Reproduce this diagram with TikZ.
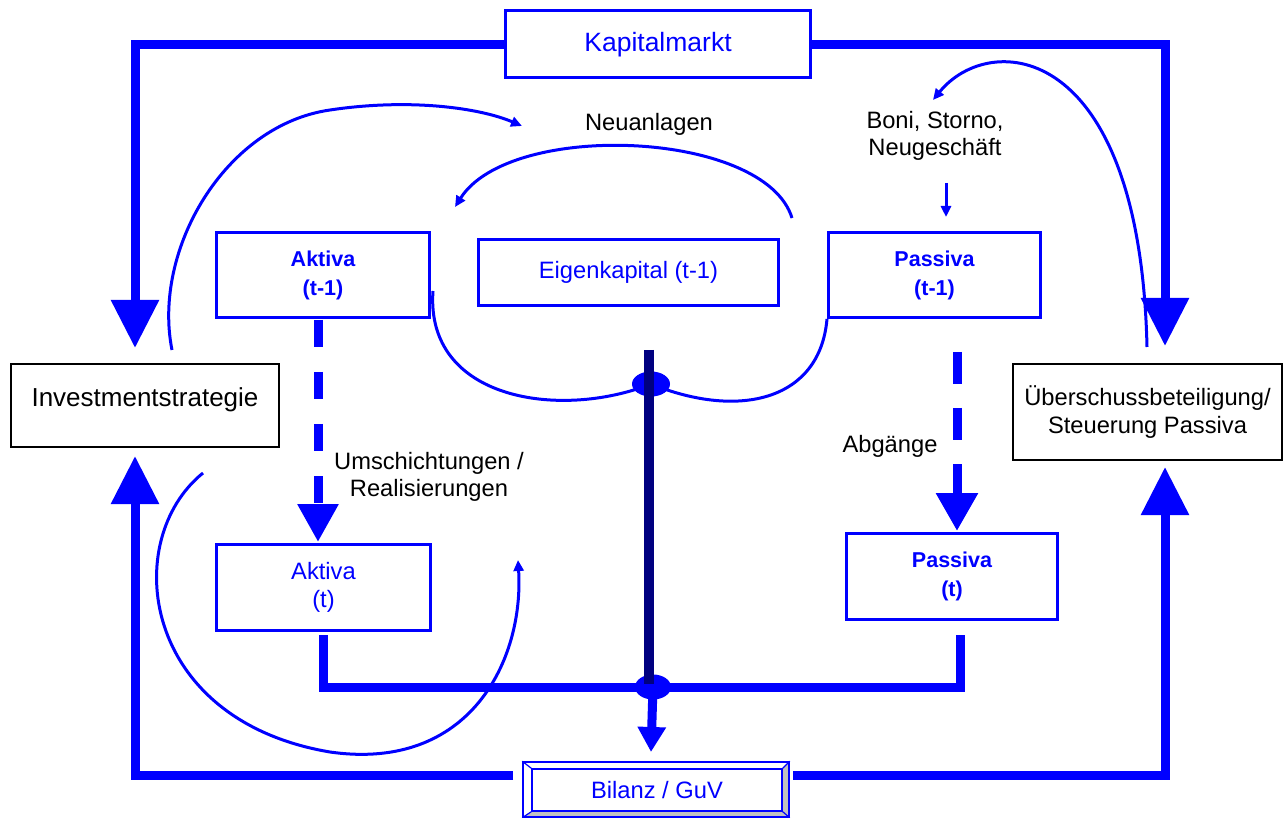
\documentclass[tikz,border=0pt]{standalone}
\usepackage{fontspec}
\setmainfont{Liberation Sans}
\usetikzlibrary{arrows.meta}
\definecolor{bl}{RGB}{0,0,255}
\definecolor{nv}{RGB}{0,0,128}
\definecolor{bevelgray}{RGB}{192,192,192}
\begin{document}
\begin{tikzpicture}[x=1pt,y=-1pt,
  bluebox/.style={draw=bl,line width=3pt,text=bl,inner sep=0pt,align=center,font=\fontsize{23.7}{27.5}\selectfont},
  boldbox/.style={bluebox,font=\fontsize{21.5}{29}\selectfont\bfseries},
  blackbox/.style={draw=black,line width=2pt,inner sep=0pt,align=center,font=\fontsize{23.7}{27.5}\selectfont},
  lbl/.style={font=\fontsize{23.7}{27.5}\selectfont,align=center,inner sep=0pt},
  bigline/.style={draw=bl,line width=9pt,line join=miter},
  bigtip/.style={-{Triangle[length=48pt,width=46pt]}},
  thinline/.style={draw=bl,line width=3pt},
  thintip/.style={-{Triangle[length=11pt,width=10pt]}}]
\useasboundingbox (0,0) rectangle (1286,818);

% boxes
\node[bluebox,minimum width=305pt,minimum height=67pt,font=\fontsize{26.5}{30}\selectfont] (km) at (658,44.5) {Kapitalmarkt};
\node[boldbox,minimum width=213pt,minimum height=85pt] (a1) at (323,275) {Aktiva\\(t-1)};
\node[bluebox,minimum width=300pt,minimum height=66pt] (ek) at (628.5,272.5) {Eigenkapital (t-1)};
\node[boldbox,minimum width=212pt,minimum height=85pt] (p1) at (934.5,275) {Passiva\\(t-1)};
\node[blackbox,minimum width=268pt,minimum height=83pt,font=\fontsize{26}{30}\selectfont,text depth=16pt] (inv) at (145,405.5) {Investmentstrategie};
\node[blackbox,minimum width=269pt,minimum height=96pt] (ue) at (1147.5,412) {Überschussbeteiligung/\\Steuerung Passiva};
\node[bluebox,minimum width=214pt,minimum height=86pt] (a2) at (323.5,587.5) {Aktiva\\(t)};
\node[boldbox,minimum width=211pt,minimum height=86pt] (p2) at (952,576.5) {Passiva\\(t)};

% Bilanz / GuV beveled box
\fill[bevelgray] (523,817) -- (789,817) -- (782,811) -- (532,811) -- cycle;
\fill[bevelgray] (789,762) -- (789,817) -- (782,811) -- (782,769) -- cycle;
\node[draw=bl,line width=1.5pt,inner sep=0pt,minimum width=266pt,minimum height=55pt] (bil) at (656,789.5) {};
\node[draw=bl,line width=1.5pt,inner sep=0pt,minimum width=250pt,minimum height=42pt,text=bl,font=\fontsize{23.7}{27.5}\selectfont] (bilin) at (657,790) {Bilanz / GuV};
\draw[bl,line width=1.2pt] (bil.north west) -- (bilin.north west) (bil.north east) -- (bilin.north east)
  (bil.south west) -- (bilin.south west) (bil.south east) -- (bilin.south east);

% labels
\node[lbl] (neu) at (649,124) {Neuanlagen};
\node[lbl] (boni) at (935,136) {Boni, Storno,\\Neugeschäft};
\node[lbl] (um) at (429,477) {Umschichtungen /\\Realisierungen};
\node[lbl] (abg) at (890,446) {Abgänge};

% coordinates for free ends
\coordinate (invtop) at (135,348);
\coordinate (uetop) at (1165,346);
\coordinate (invbot) at (135,456);
\coordinate (uebot) at (1165,467);
\coordinate (bilL) at (513,775);
\coordinate (bilR) at (793,775);
\coordinate (a1d) at (318,320);
\coordinate (a2u) at (318,542);
\coordinate (p1d) at (957,352);
\coordinate (p2u) at (957,531);
\coordinate (a2d) at (323,635);
\coordinate (p2d) at (960,635);
\coordinate (ctop) at (649,350);
\coordinate (blobA) at (651,384);
\coordinate (blobB) at (653,687);
\coordinate (ctip) at (651,752);

% thick frame connectors
\draw[bigline,bigtip] (km.west) -| (invtop);
\draw[bigline,bigtip] (km.east) -| (uetop);
\draw[bigline,bigtip] (bilL) -| (invbot);
\draw[bigline,bigtip] (bilR) -| (uebot);

% dashed thick arrows
\draw[bigline,dash pattern=on 27pt off 25pt,-{Triangle[length=38pt,width=39pt]}] (a1d) -- (a2u);
\draw[bigline,dash pattern=on 32pt off 24pt,-{Triangle[length=38pt,width=40pt]}] (p1d) -- (p2u);

% bottom collector
\draw[bigline] (a2d) |- (blobB) -| (p2d);
\draw[bigline,-{Triangle[length=25pt,width=27pt]}] (blobB) -- (ctip);

% thin curves
\draw[thinline] (433,291) .. controls (425,400) and (560,420) .. (blobA);
\draw[thinline] (blobA) .. controls (740,420) and (820,400) .. (p1.south west);
\draw[thinline,thintip] (172,350) .. controls (152,250) and (225,125) .. (330,110) .. controls (410,98) and (480,108) .. (522,126);
\draw[thinline,thintip] (792,218) .. controls (765,130) and (510,120) .. (455,207);
\draw[thinline,thintip] (1147,347) .. controls (1140,40) and (990,30) .. (933,100);
\draw[thinline,thintip] (946,183) -- (946,217);
\draw[thinline,thintip] (203,473) .. controls (120,540) and (140,720) .. (330,752) .. controls (470,772) and (524,660) .. (518,560);

% blobs and center line
\fill[bl] (blobA) ellipse [x radius=19pt,y radius=12.5pt];
\fill[bl] (blobB) ellipse [x radius=18pt,y radius=12.5pt];
\draw[nv,line width=10pt] (ctop) -- (649,684);
\end{tikzpicture}
\end{document}
